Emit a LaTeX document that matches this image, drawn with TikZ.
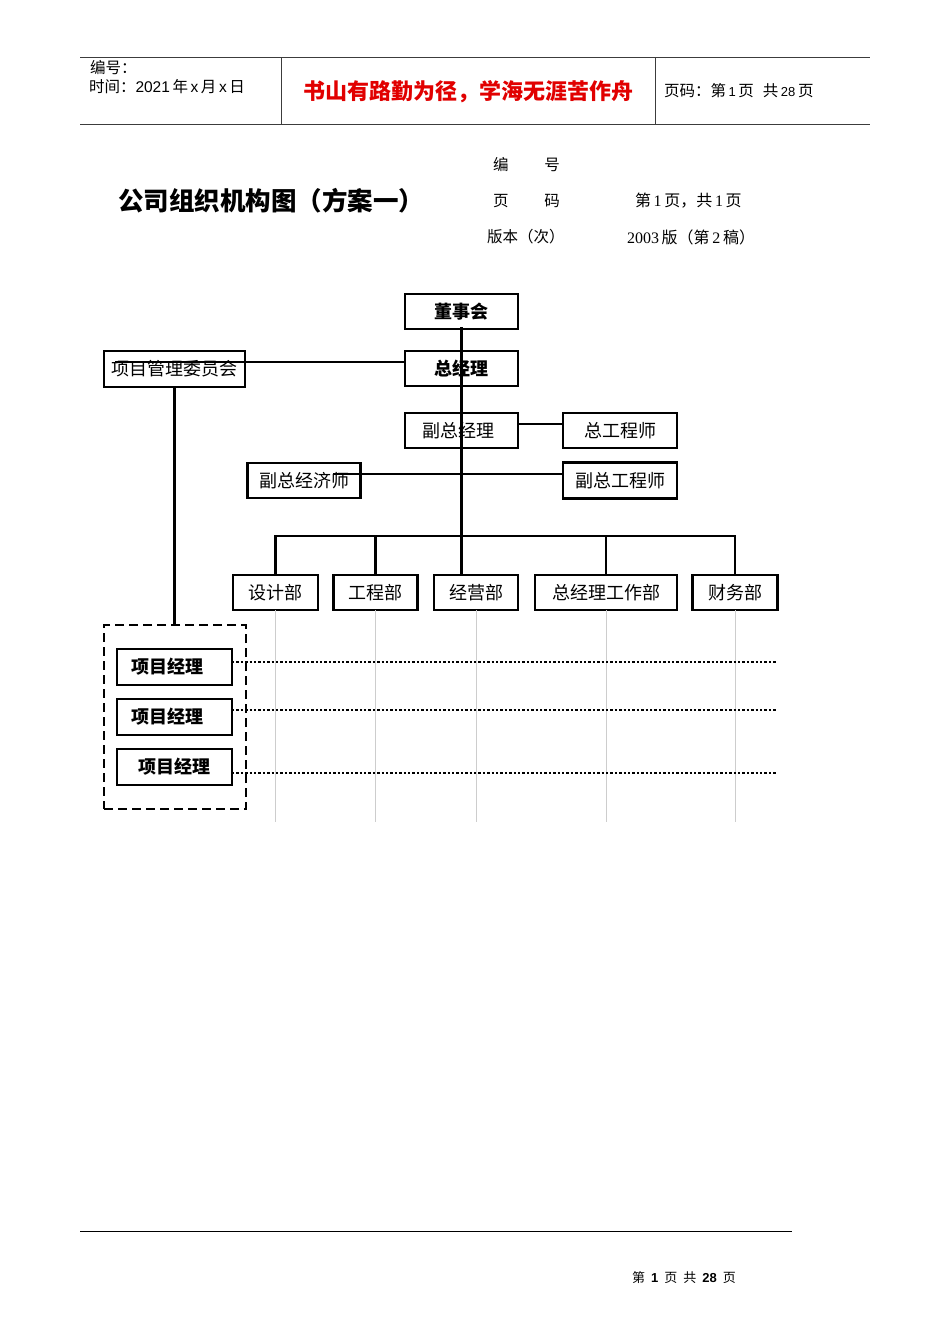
\documentclass[tikz,border=0pt]{standalone}
\usepackage{fontspec}
\setmainfont{Liberation Serif}
\newfontfamily\cjk{Noto Sans CJK SC}
\newfontfamily\lsans{Liberation Sans}
\usetikzlibrary{calc}
\definecolor{hdrline}{RGB}{60,60,60}
\definecolor{gridgray}{RGB}{205,205,205}
\definecolor{mottored}{RGB}{225,0,0}
\tikzset{
  box/.style={draw, line width=2.5pt, fill=white, inner sep=0pt, outer sep=0pt, font=\cjk\fontsize{18}{20}\selectfont},
  boldbox/.style={box, font=\cjk\bfseries\fontsize{18}{20}\selectfont},
  pmbox/.style={draw, line width=1.5pt, fill=white, inner sep=0pt, outer sep=0pt, minimum width=115pt, minimum height=36pt, font=\cjk\bfseries\fontsize{18}{20}\selectfont},
  conn/.style={line width=2.5pt},
  gridline/.style={draw=gridgray, line width=0.9pt},
  dots/.style={line width=2.8pt, dash pattern=on 2.4pt off 2pt},
  grpbox/.style={draw, line width=2.5pt, dash pattern=on 9pt off 5pt, inner sep=0pt, minimum width=142pt, minimum height=184pt},
  hdr/.style={draw=hdrline, line width=1pt},
  txt/.style={inner sep=0pt, outer sep=0pt, anchor=west},
}
\begin{document}
\begin{tikzpicture}[x=1pt,y=-1pt]
\useasboundingbox[fill=white] (0,0) rectangle (950,1344);

% header
\draw[hdr] (80,57) -- (870,57);
\draw[hdr] (80,124.5) -- (870,124.5);
\draw[hdr] (281,57) -- (281,124.5);
\draw[hdr] (655,57) -- (655,124.5);
\node[txt] (h1) at (90,68) {\cjk\fontsize{15.5}{17}\selectfont 编号：};
\node[txt] (h2) at (89,87) {\fontsize{15.5}{17}\selectfont{\cjk 时间：}{\lsans 2021}\,{\cjk 年}\,{\lsans x}\,{\cjk 月}\,{\lsans x}\,{\cjk 日}};
\node[inner sep=0pt, text=mottored] (motto) at (468,92) {\cjk\bfseries\fontsize{22}{24}\selectfont 书山有路勤为径，学海无涯苦作舟};
\node[txt] (h3) at (664,91) {\fontsize{15.5}{17}\selectfont{\cjk 页码：第}\,{\lsans\fontsize{13}{15}\selectfont 1}\,{\cjk 页}\hspace{9pt}{\cjk 共}\,{\lsans\fontsize{13}{15}\selectfont 28}\,{\cjk 页}};

% title block
\node[txt] (title) at (118,201) {\cjk\bfseries\fontsize{25.5}{27}\selectfont 公司组织机构图（方案一）};
\node[txt] (m1) at (493,165) {\cjk\fontsize{15.5}{17}\selectfont 编\hspace{36pt}号};
\node[txt] (m2) at (493,201) {\cjk\fontsize{15.5}{17}\selectfont 页\hspace{36pt}码};
\node[txt] (m3) at (487,237) {\cjk\fontsize{15.5}{17}\selectfont 版本（次）};
\node[txt] (m4) at (635,201) {\fontsize{16}{18}\selectfont{\cjk 第}\,1\,{\cjk 页，共}\,1\,{\cjk 页}};
\node[txt] (m5) at (627,237) {\fontsize{16}{18}\selectfont 2003\,{\cjk 版（第}\,2\,{\cjk 稿）}};

% org boxes
\node[boldbox, minimum width=113pt, minimum height=35pt] (dsh) at (461.5,311.5) {董事会};
\node[boldbox, minimum width=113pt, minimum height=35pt] (zjl) at (461.5,368.5) {总经理};
\node[box, minimum width=141pt, minimum height=36pt] (pmc) at (174.5,369) {\raisebox{2pt}{项目管理委员会}};
\node[box, minimum width=113pt, minimum height=35pt] (fzjl) at (461.5,430.5) {\hspace{-6pt}副总经理};
\node[box, minimum width=114pt, minimum height=35pt] (zgcs) at (620,430.5) {总工程师};
\node[box, minimum width=113pt, minimum height=35pt] (fzjjs) at (304,480.5) {副总经济师};
\node[box, minimum width=114pt, minimum height=36pt] (fzgcs) at (620,480.5) {副总工程师};

% departments
\node[box, minimum width=85pt, minimum height=35pt] (sjb) at (275.5,592.5) {设计部};
\node[box, minimum width=84pt, minimum height=35pt] (gcb) at (375.5,592.5) {工程部};
\node[box, minimum width=84pt, minimum height=35pt] (jyb) at (476,592.5) {经营部};
\node[box, minimum width=142pt, minimum height=35pt] (zjlgzb) at (606,592.5) {总经理工作部};
\node[box, minimum width=85pt, minimum height=35pt] (cwb) at (735,592.5) {财务部};

% grid lines below departments
\foreach \n in {sjb,gcb,jyb,zjlgzb,cwb}
  \draw[gridline] (\n.south) -- ++(0,212);

% project group
\node[grpbox] (grp) at (175,717) {};
\node[pmbox] (pm1) at (174.5,667) {\hspace{-14pt}项目经理};
\node[pmbox] (pm2) at (174.5,717) {\hspace{-14pt}项目经理};
\node[pmbox] (pm3) at (174.5,767) {项目经理};

\draw[dots] ([yshift=5pt]pm1.east) -- ++(544,0);
\draw[dots] ([yshift=7pt]pm2.east) -- ++(544,0);
\draw[dots] ([yshift=-6pt]pm3.east) -- ++(544,0);

% connectors
\coordinate (bus) at (462,536);
\draw[conn] ([yshift=2pt]dsh.south) -- (dsh.south |- jyb.north);
\draw[conn] (sjb.north) |- (cwb.north |- bus) -- (cwb.north);
\draw[conn] (gcb.north) -- (gcb.north |- bus);
\draw[conn] (zjlgzb.north) -- (zjlgzb.north |- bus);
\draw[conn] ([xshift=11pt,yshift=7pt]pmc.west) -- ([yshift=6.5pt]zjl.west);
\draw[conn] (pmc.south) -- (pmc.south |- grp.north);
\draw[conn] ([yshift=6.5pt]fzjl.east) -- ([yshift=6.5pt]zgcs.west);
\draw[conn] ([xshift=29pt,yshift=6.5pt]fzjjs.center) -- ([yshift=6.5pt]fzgcs.west);

% footer
\draw[line width=0.8pt] (80,1231) -- (792,1231);
\node[inner sep=0pt] (foot) at (684,1278) {\fontsize{13}{15}\selectfont{\cjk 第}\hspace{6pt}{\lsans\bfseries 1}\hspace{6pt}{\cjk 页}\hspace{6pt}{\cjk 共}\hspace{6pt}{\lsans\bfseries 28}\hspace{6pt}{\cjk 页}};
\end{tikzpicture}
\end{document}
